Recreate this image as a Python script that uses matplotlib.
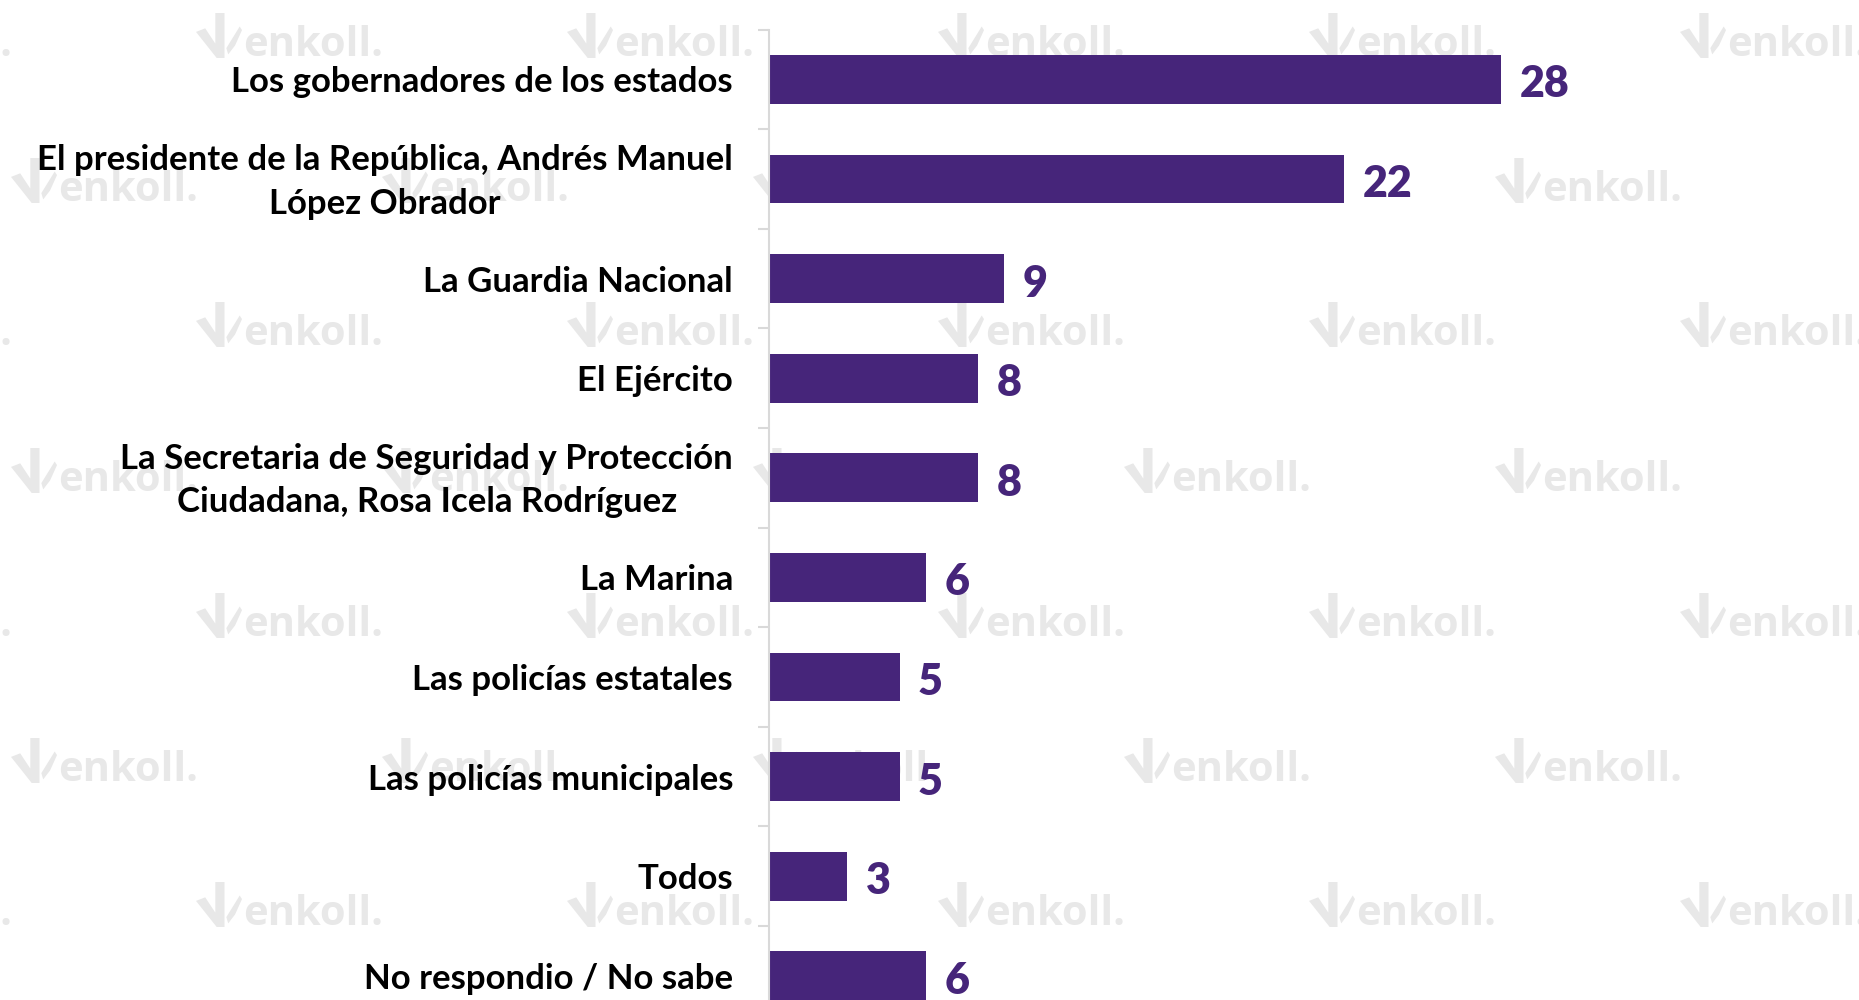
import numpy as np
import matplotlib.pyplot as plt
from matplotlib.patches import Polygon
from matplotlib.ticker import FixedLocator
from matplotlib.transforms import ScaledTranslation, blended_transform_factory

categories = [
    "Los gobernadores de los estados",
    "El presidente de la República, Andrés Manuel\nLópez Obrador",
    "La Guardia Nacional",
    "El Ejército",
    "La Secretaria de Seguridad y Protección\nCiudadana, Rosa Icela Rodríguez",
    "La Marina",
    "Las policías estatales",
    "Las policías municipales",
    "Todos",
    "No respondio / No sabe",
]
values = [28, 22, 9, 8, 8, 6, 5, 5, 3, 6]

purple = "#46257a"
wm = "#e8e8e8"
W, H = 1859, 1000

fig = plt.figure(figsize=(W/100, H/100), dpi=100)
fig.patch.set_facecolor("white")

# watermark grid (behind everything)
rows_a = [39, 328, 619, 908]
rows_b = [184, 474, 764]
cols_a = [-83, 288, 659, 1030, 1401, 1772]
cols_b = [103, 474, 845, 1216, 1587]

check = [(0.0, 0.42), (0.2, 0.34), (0.42, 0.68), (0.42, 0.0), (0.62, 0.0),
         (0.62, 1.0), (0.45, 1.0)]
leaf = [(0.66, 0.78), (0.95, 0.3), (1.0, 0.38), (0.85, 0.72), (0.7, 0.92)]

def mark(cx, cy):
    x0, y0, bw, bh = cx - 92, cy - 26, 46, 45
    for shape in (check, leaf):
        pts = [((x0 + u*bw)/W, 1 - (y0 + v*bh)/H) for u, v in shape]
        fig.patches.append(Polygon(pts, closed=True, facecolor=wm, edgecolor="none",
                                   transform=fig.transFigure, zorder=0))
    fig.text((cx - 45)/W, 1 - (cy + 17)/H, "enkoll.", fontsize=30, color=wm,
             ha="left", va="baseline", family="Open Sans", weight="bold", zorder=0)

for cy in rows_a:
    for cx in cols_a:
        mark(cx, cy)
for cy in rows_b:
    for cx in cols_b:
        mark(cx, cy)

left = 769
top = 29.6
ax = fig.add_axes([left/W, 0, 1 - left/W, (H - top)/H])
ax.set_zorder(1)
ax.patch.set_visible(False)

y = np.arange(len(categories))
ax.barh(y, values, height=0.49, color=purple, zorder=2)
for yi, v in zip(y, values):
    ax.text(v + 0.7, yi + 0.05, str(v), color=purple, fontsize=31,
            fontweight="heavy", family="Lato", va="center", ha="left")

ax.set_xlim(0, (W - left)/26.15)
ax.set_ylim(9 + 24.2/99.6, -0.5)

for s in ["top", "right", "bottom"]:
    ax.spines[s].set_visible(False)
ax.spines["left"].set_color("#d9d9d9")
ax.spines["left"].set_linewidth(1.5)
ax.set_xticks([])

# category labels, right-aligned 36 px left of the axis line
ax.set_yticks(y)
ax.set_yticklabels([])
ax.tick_params(axis="y", which="major", length=0)
base = blended_transform_factory(ax.transAxes, ax.transData)
for yi, lab in zip(y, categories):
    dy = 6/100 if "\n" in lab else 0
    tr = base + ScaledTranslation(-36/100, dy, fig.dpi_scale_trans)
    ax.text(0, yi, lab, transform=tr, ha="right", va="center_baseline",
            multialignment="center", linespacing=1.45,
            fontsize=25, fontweight="bold", family="Lato", clip_on=False)

ax.yaxis.set_minor_locator(FixedLocator(np.arange(-0.5, 9, 1.0)))
ax.tick_params(axis="y", which="minor", length=8, color="#d9d9d9", width=1.5)

fig.savefig("out.png", dpi=100)
